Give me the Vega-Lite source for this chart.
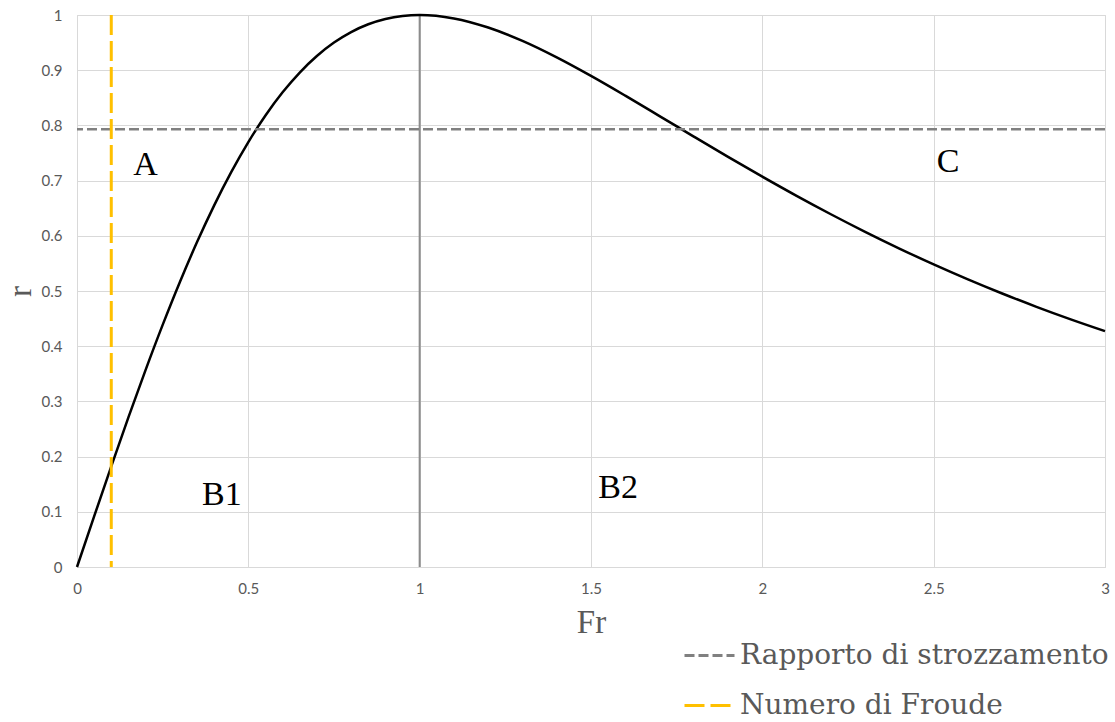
{
  "$schema": "https://vega.github.io/schema/vega-lite/v6.json",
  "width": 1028,
  "height": 552,
  "autosize": {"type": "none"},
  "padding": {"left": 77, "top": 15, "right": 10, "bottom": 155},
  "background": "white",
  "config": {
    "view": {"stroke": "#d9d9d9"},
    "axis": {
      "grid": true,
      "gridColor": "#d9d9d9",
      "gridWidth": 1,
      "domainColor": "#d9d9d9",
      "ticks": false,
      "labelFont": "Lato",
      "labelFontSize": 15,
      "labelColor": "#595959",
      "format": "~g",
      "titleFont": "Liberation Serif",
      "titleFontSize": 33,
      "titleFontWeight": "normal",
      "titleColor": "#595959"
    },
    "legend": {
      "labelFont": "DejaVu Serif",
      "labelFontSize": 28,
      "labelColor": "#595959",
      "labelLimit": 0,
      "symbolType": "stroke",
      "symbolSize": 2500,
      "symbolStrokeWidth": 3,
      "rowPadding": 9,
      "labelOffset": 4
    }
  },
  "datasets": {
    "curva": [
      {"Fr": 0.0, "r": 0.0},
      {"Fr": 0.05, "r": 0.09168},
      {"Fr": 0.1, "r": 0.18234},
      {"Fr": 0.15, "r": 0.27098},
      {"Fr": 0.2, "r": 0.35667},
      {"Fr": 0.25, "r": 0.43856},
      {"Fr": 0.3, "r": 0.51592},
      {"Fr": 0.35, "r": 0.58814},
      {"Fr": 0.4, "r": 0.65473},
      {"Fr": 0.45, "r": 0.71535},
      {"Fr": 0.5, "r": 0.7698},
      {"Fr": 0.55, "r": 0.81799},
      {"Fr": 0.6, "r": 0.85993},
      {"Fr": 0.65, "r": 0.89578},
      {"Fr": 0.7, "r": 0.92572},
      {"Fr": 0.75, "r": 0.95005},
      {"Fr": 0.8, "r": 0.96909},
      {"Fr": 0.85, "r": 0.98322},
      {"Fr": 0.9, "r": 0.99281},
      {"Fr": 0.95, "r": 0.99827},
      {"Fr": 1.0, "r": 1.0},
      {"Fr": 1.1, "r": 0.99384},
      {"Fr": 1.2, "r": 0.97729},
      {"Fr": 1.3, "r": 0.95299},
      {"Fr": 1.4, "r": 0.92314},
      {"Fr": 1.5, "r": 0.88959},
      {"Fr": 1.6, "r": 0.8538},
      {"Fr": 1.7, "r": 0.8169},
      {"Fr": 1.8, "r": 0.77975},
      {"Fr": 1.9, "r": 0.743},
      {"Fr": 2.0, "r": 0.70711},
      {"Fr": 2.1, "r": 0.67238},
      {"Fr": 2.2, "r": 0.63903},
      {"Fr": 2.3, "r": 0.60718},
      {"Fr": 2.4, "r": 0.5769},
      {"Fr": 2.5, "r": 0.5482},
      {"Fr": 2.6, "r": 0.52107},
      {"Fr": 2.7, "r": 0.49548},
      {"Fr": 2.8, "r": 0.47135},
      {"Fr": 2.9, "r": 0.44864},
      {"Fr": 3.0, "r": 0.42728}
    ],
    "zone": [
      {"label": "A", "Fr": 0.2, "r": 0.728},
      {"label": "B1", "Fr": 0.423, "r": 0.13},
      {"label": "B2", "Fr": 1.579, "r": 0.143},
      {"label": "C", "Fr": 2.542, "r": 0.734}
    ]
  },
  "layer": [
    {
      "data": {"values": [{"Fr": 1, "r0": 0, "r1": 1}]},
      "mark": {"type": "rule", "color": "#8c8c8c", "strokeWidth": 2},
      "encoding": {
        "x": {"field": "Fr", "type": "quantitative"},
        "y": {"field": "r0", "type": "quantitative"},
        "y2": {"field": "r1"}
      }
    },
    {
      "data": {"name": "curva"},
      "mark": {"type": "line", "color": "black", "strokeWidth": 2.5, "interpolate": "monotone"},
      "encoding": {
        "x": {
          "field": "Fr", "type": "quantitative", "title": "Fr",
          "scale": {"domain": [0, 3], "nice": false},
          "axis": {"values": [0, 0.5, 1, 1.5, 2, 2.5, 3], "labelFontSize": 15, "labelPadding": 14, "titlePadding": 10, "labelFlush": false}
        },
        "y": {
          "field": "r", "type": "quantitative", "title": "r",
          "scale": {"domain": [0, 1], "nice": false},
          "axis": {"values": [0, 0.1, 0.2, 0.3, 0.4, 0.5, 0.6, 0.7, 0.8, 0.9, 1], "labelFontSize": 15, "labelPadding": 15, "titlePadding": 4, "labelFlush": false}
        }
      }
    },
    {
      "data": {"values": [{"serie": "Rapporto di strozzamento", "r": 0.793}]},
      "mark": {"type": "rule", "strokeWidth": 2.5},
      "encoding": {
        "y": {"field": "r", "type": "quantitative"},
        "color": {
          "field": "serie", "type": "nominal",
          "scale": {"domain": ["Rapporto di strozzamento", "Numero di Froude"], "range": ["#808080", "#ffc000"]},
          "legend": {"title": null, "orient": "none", "legendX": 606, "legendY": 614}
        },
        "strokeDash": {
          "field": "serie", "type": "nominal",
          "scale": {"domain": ["Rapporto di strozzamento", "Numero di Froude"], "range": [[10, 4], [20, 6]]},
          "legend": {"title": null, "orient": "none", "legendX": 606, "legendY": 614}
        }
      }
    },
    {
      "data": {"values": [{"serie": "Numero di Froude", "Fr": 0.1}]},
      "mark": {"type": "rule", "strokeWidth": 3},
      "encoding": {
        "x": {"field": "Fr", "type": "quantitative"},
        "color": {"field": "serie", "type": "nominal"},
        "strokeDash": {"field": "serie", "type": "nominal"}
      }
    },
    {
      "data": {"name": "zone"},
      "mark": {"type": "text", "font": "Liberation Serif", "fontSize": 34, "color": "black", "align": "center", "baseline": "middle"},
      "encoding": {
        "x": {"field": "Fr", "type": "quantitative"},
        "y": {"field": "r", "type": "quantitative"},
        "text": {"field": "label"}
      }
    }
  ]
}
